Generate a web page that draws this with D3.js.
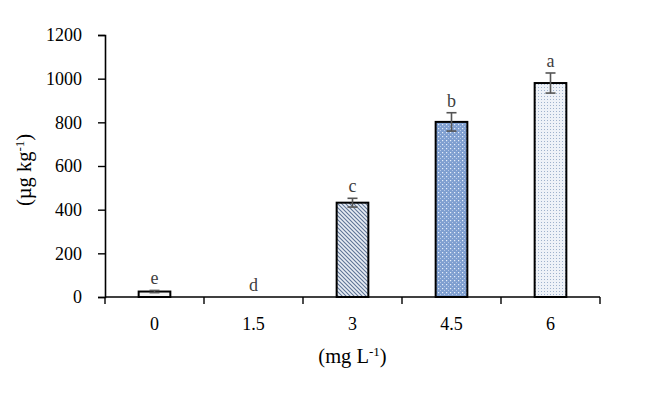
<!DOCTYPE html>
<html>
<head>
<meta charset="utf-8">
<script src="https://cdn.jsdelivr.net/npm/d3@7"></script>
<style>
  body { margin: 0; background: #fff; }
  svg text { font-family: "Liberation Serif", "Times New Roman", serif !important; }
</style>
</head>
<body>
<svg id="chart" width="651" height="393"></svg>
<script>
var categories = ["0", "1.5", "3", "4.5", "6"];
var values = [25, 0, 432, 802, 980];
var errors = [5, 0, 20, 42, 46];
var letters = ["e", "d", "c", "b", "a"];
var patterns = ["plain", "none", "stripes", "diamond", "dots"];
var yTicks = [0, 200, 400, 600, 800, 1000, 1200];

var serif = "Liberation Serif";
var svg = d3.select("#chart");
var margin = {left: 105, right: 51, top: 35, bottom: 96};
var width = 651 - margin.left - margin.right;
var height = 393 - margin.top - margin.bottom;

var defs = svg.append("defs");

// diagonal stripes
var p1 = defs.append("pattern").attr("id", "stripes")
  .attr("width", 4).attr("height", 4)
  .attr("patternUnits", "userSpaceOnUse");
p1.append("rect").attr("width", 4).attr("height", 4).attr("fill", "#e8edf4");
p1.append("path").attr("d", "M-1,-1 L5,5 M-1,3 L1,5 M3,-1 L5,1")
  .attr("stroke", "#5e7496").attr("stroke-width", 1.1);

// blue diamond grid
var p2 = defs.append("pattern").attr("id", "diamond")
  .attr("width", 4).attr("height", 4)
  .attr("patternUnits", "userSpaceOnUse");
p2.append("rect").attr("width", 4).attr("height", 4).attr("fill", "#7f9fd0");
p2.append("rect").attr("x", 1).attr("y", 1).attr("width", 1.2).attr("height", 1.2).attr("fill", "#e6eefa");
p2.append("rect").attr("x", 3).attr("y", 3).attr("width", 1).attr("height", 1).attr("fill", "#b7c9e8");

// fine dots
var p3 = defs.append("pattern").attr("id", "dots")
  .attr("width", 3).attr("height", 3)
  .attr("patternUnits", "userSpaceOnUse");
p3.append("rect").attr("width", 3).attr("height", 3).attr("fill", "#eef2f8");
p3.append("rect").attr("x", 1).attr("y", 1).attr("width", 1).attr("height", 1).attr("fill", "#9fb2cc");

var g = svg.append("g").attr("transform", "translate(" + margin.left + "," + margin.top + ")");

var x = d3.scaleBand().domain(categories).range([0, width]).paddingInner(0.68).paddingOuter(0.34);
var y = d3.scaleLinear().domain([0, 1200]).range([height, 0]);

// y axis
var yAxis = g.append("g")
  .call(d3.axisLeft(y).tickValues(yTicks).tickFormat(d3.format("d")).tickSize(7).tickPadding(16));
yAxis.attr("font-family", serif).attr("font-size", 18);
yAxis.select(".domain").attr("stroke", "#000").attr("stroke-width", 1.6);
yAxis.selectAll(".tick line").attr("stroke", "#000").attr("stroke-width", 1.4);
yAxis.selectAll(".tick text").attr("fill", "#000");

// x axis (ticks at band boundaries)
var step = x.step();
var edges = d3.range(categories.length + 1);
g.append("line").attr("x1", 0).attr("x2", width).attr("y1", height).attr("y2", height)
  .attr("stroke", "#000").attr("stroke-width", 1.6);
g.selectAll(".xtick").data(edges).enter().append("line")
  .attr("x1", function(i) { return i * step; })
  .attr("x2", function(i) { return i * step; })
  .attr("y1", height).attr("y2", height + 7)
  .attr("stroke", "#000").attr("stroke-width", 1.4);
g.selectAll(".xlab").data(categories).enter().append("text")
  .attr("x", function(d) { return x(d) + x.bandwidth() / 2; })
  .attr("y", height + 33)
  .attr("text-anchor", "middle").attr("font-size", 18).attr("font-family", serif)
  .text(function(d) { return d; });

// bars
var barData = categories.map(function(c, i) {
  return {cat: c, v: values[i], e: errors[i], l: letters[i], p: patterns[i]};
});
g.selectAll(".bar").data(barData.filter(function(d) { return d.v > 0; })).enter().append("rect")
  .attr("x", function(d) { return x(d.cat); })
  .attr("y", function(d) { return y(d.v); })
  .attr("width", x.bandwidth())
  .attr("height", function(d) { return height - y(d.v); })
  .attr("fill", function(d) { return d.p === "plain" ? "#f2f2f2" : "url(#" + d.p + ")"; })
  .attr("stroke", "#000").attr("stroke-width", 2);

// error bars
var eb = g.selectAll(".err").data(barData.filter(function(d) { return d.e > 0; })).enter().append("g")
  .attr("stroke", "#555").attr("stroke-width", 1.6);
eb.append("line")
  .attr("x1", function(d) { return x(d.cat) + x.bandwidth() / 2; })
  .attr("x2", function(d) { return x(d.cat) + x.bandwidth() / 2; })
  .attr("y1", function(d) { return y(d.v + d.e); })
  .attr("y2", function(d) { return y(d.v - d.e); });
eb.append("line")
  .attr("x1", function(d) { return x(d.cat) + x.bandwidth() / 2 - 5; })
  .attr("x2", function(d) { return x(d.cat) + x.bandwidth() / 2 + 5; })
  .attr("y1", function(d) { return y(d.v + d.e); })
  .attr("y2", function(d) { return y(d.v + d.e); });
eb.append("line")
  .attr("x1", function(d) { return x(d.cat) + x.bandwidth() / 2 - 5; })
  .attr("x2", function(d) { return x(d.cat) + x.bandwidth() / 2 + 5; })
  .attr("y1", function(d) { return y(d.v - d.e); })
  .attr("y2", function(d) { return y(d.v - d.e); });

// letters
g.selectAll(".lett").data(barData).enter().append("text")
  .attr("x", function(d) { return x(d.cat) + x.bandwidth() / 2; })
  .attr("y", function(d) { return y(d.v + d.e) - 6; })
  .attr("text-anchor", "middle").attr("font-size", 18).attr("fill", "#404040")
  .attr("font-family", serif)
  .text(function(d) { return d.l; });

// axis titles
var xt = svg.append("text").attr("x", margin.left + width / 2).attr("y", 363)
  .attr("text-anchor", "middle").attr("font-size", 20.5).attr("font-family", serif);
xt.append("tspan").text("(mg L");
xt.append("tspan").attr("baseline-shift", "super").attr("font-size", 13).text("-1");
xt.append("tspan").text(")");

var yt = svg.append("text").attr("transform", "translate(31,170) rotate(-90)")
  .attr("text-anchor", "middle").attr("font-size", 20.5).attr("font-family", serif);
yt.append("tspan").text("(µg kg");
yt.append("tspan").attr("baseline-shift", "super").attr("font-size", 13).text("-1");
yt.append("tspan").text(")");
</script>
</body>
</html>
